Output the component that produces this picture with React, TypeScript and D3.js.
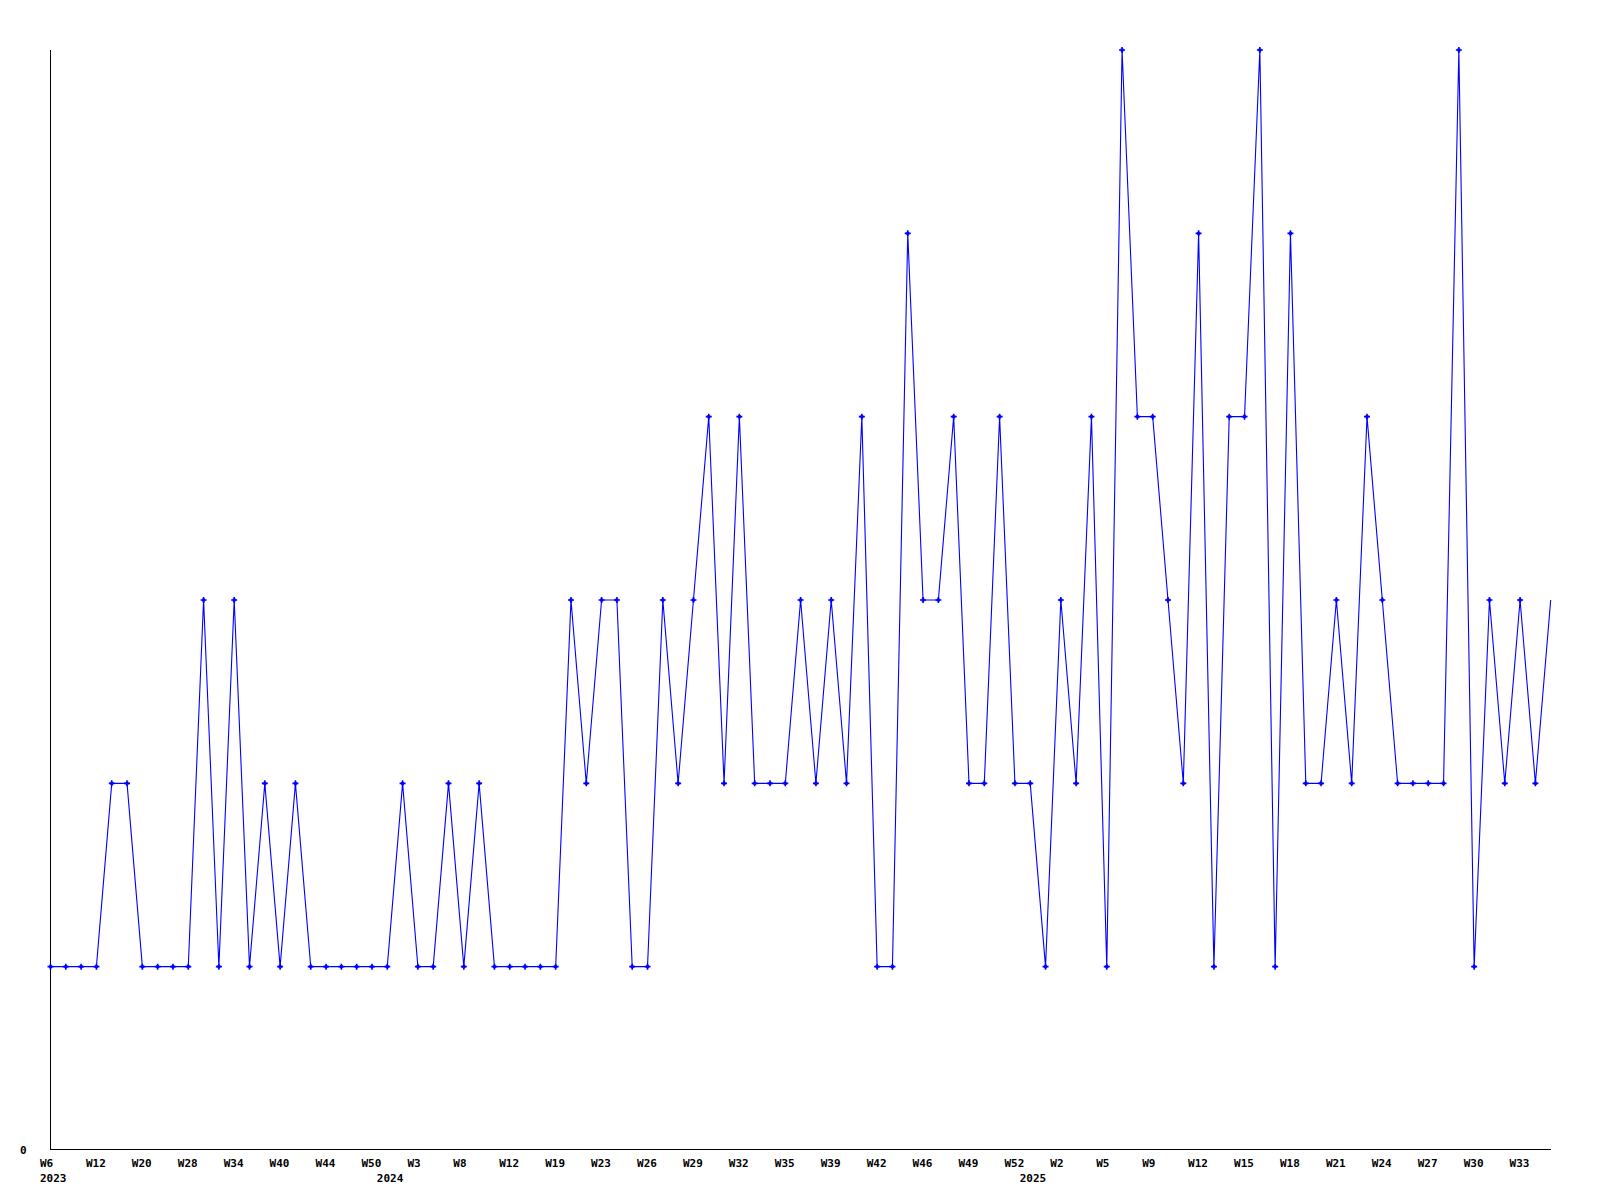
import React from "react";
import * as d3 from "d3";

// Series values, one per sample (oldest first)
const values: number[] = [
  1, 1, 1, 1, 2, 2, 1, 1, 1, 1,
  3, 1, 3, 1, 2, 1, 2, 1, 1, 1,
  1, 1, 1, 2, 1, 1, 2, 1, 2, 1,
  1, 1, 1, 1, 3, 2, 3, 3, 1, 1,
  3, 2, 3, 4, 2, 4, 2, 2, 2, 3,
  2, 3, 2, 4, 1, 1, 5, 3, 3, 4,
  2, 2, 4, 2, 2, 1, 3, 2, 4, 1,
  6, 4, 4, 3, 2, 5, 1, 4, 4, 6,
  1, 5, 2, 2, 3, 2, 4, 3, 2, 2,
  2, 2, 6, 1, 3, 2, 3, 2, 3,
];

// Week tick labels, one every third sample
const weekTickLabels: string[] = [
  "W6", "W12", "W20", "W28", "W34", "W40", "W44", "W50",
  "W3", "W8", "W12", "W19", "W23", "W26", "W29", "W32", "W35", "W39", "W42", "W46", "W49", "W52",
  "W2", "W5", "W9", "W12", "W15", "W18", "W21", "W24", "W27", "W30", "W33",
];
const weekTickStep = 3;

// Year labels and the sample where each year starts
const yearLabels: string[] = ["2023", "2024", "2025"];
const yearStartIndex: number[] = [0, 22, 64];

const yMax = 6;

export default function App() {
  const W = 1600;
  const H = 1200;
  const left = 50.5;
  const right = 1550.7;
  const top = 50;
  const bottom = 1150;

  const x = d3
    .scaleLinear()
    .domain([0, values.length - 1])
    .range([left, right]);
  const y = d3.scaleLinear().domain([0, yMax]).range([bottom, top]);

  const line = d3
    .line<number>()
    .x((_, i) => x(i))
    .y((d) => y(d));

  const font = "'DejaVu Sans Mono', 'Liberation Mono', monospace";
  const labelOffset = 10.5;

  return (
    <svg
      width={W}
      height={H}
      style={{ position: "absolute", left: 0, top: 0, background: "#fff" }}
    >
      <rect x={0} y={0} width={W} height={H} fill="#fff" />
      {/* axes */}
      <line
        x1={50.5}
        x2={50.5}
        y1={top}
        y2={bottom}
        stroke="#000"
        strokeWidth={1}
      />
      <line
        x1={50}
        x2={1551}
        y1={bottom - 0.5}
        y2={bottom - 0.5}
        stroke="#000"
        strokeWidth={1}
      />
      <text
        x={20}
        y={bottom + 3.5}
        fontFamily={font}
        fontWeight="bold"
        fontSize={11}
        fill="#000"
      >
        0
      </text>
      {/* series */}
      <path d={line(values) || ""} fill="none" stroke="#0000ff" strokeWidth={1.1} />
      {values.slice(0, values.length - 1).map((v, i) => (
        <g key={i} transform={`translate(${x(i)},${y(v)})`}>
          <path d="M-3,0H3M0,-3V3" stroke="#0000ff" strokeWidth={1.6} />
          <rect x={-1.5} y={-1.5} width={3} height={3} fill="#0000ff" />
        </g>
      ))}
      {/* x tick labels */}
      {weekTickLabels.map((t, k) => (
        <text
          key={"w" + k}
          x={x(k * weekTickStep) - labelOffset}
          y={1167}
          fontFamily={font}
          fontWeight="bold"
          fontSize={11}
          fill="#000"
        >
          {t}
        </text>
      ))}
      {yearLabels.map((t, k) => (
        <text
          key={"y" + k}
          x={x(yearStartIndex[k]) - labelOffset}
          y={1182}
          fontFamily={font}
          fontWeight="bold"
          fontSize={11}
          fill="#000"
        >
          {t}
        </text>
      ))}
    </svg>
  );
}
